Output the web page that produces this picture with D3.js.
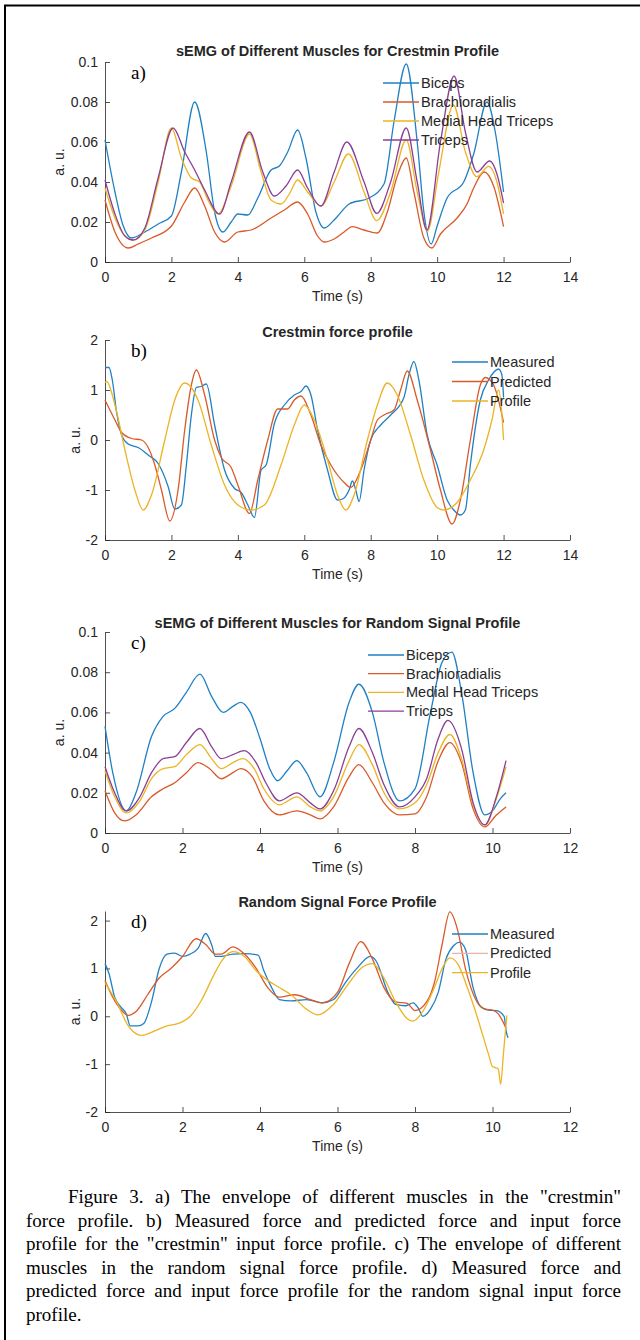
<!DOCTYPE html>
<html>
<head>
<meta charset="utf-8">
<script src="https://cdn.jsdelivr.net/npm/d3@7"></script>
<style>
  body { margin: 0; background: #fff; }
  svg { display: block; }
  text { font-family: "Liberation Sans", Arial, sans-serif; fill: #262626; }
  .cap { font-family: "Liberation Serif", "Times New Roman", serif; fill: #000; }
</style>
</head>
<body>
<script>
// ---- data ----
const muscleNames = ["Biceps", "Brachioradialis", "Medial Head Triceps", "Triceps"];
const forceNames = ["Measured", "Predicted", "Profile"];

const xTicksA = [0, 2, 4, 6, 8, 10, 12, 14];
const xTicksC = [0, 2, 4, 6, 8, 10, 12];
const yTicksEmg = [0, 0.02, 0.04, 0.06, 0.08, 0.1];
const yLabelsEmg = ["0", "0.02", "0.04", "0.06", "0.08", "0.1"];
const yTicksForce = [-2, -1, 0, 1, 2];
const yLabelsForce = ["-2", "-1", "0", "1", "2"];

// a) crestmin sEMG  [time, value]
const aBiceps = [[0,0.061],[0.3,0.035],[0.55,0.018],[0.8,0.012],[1.2,0.015],[1.6,0.019],[2.0,0.023],[2.3,0.045],[2.7,0.080],[3.05,0.055],[3.3,0.025],[3.55,0.015],[3.8,0.02],[4.0,0.024],[4.3,0.0235],[4.6,0.032],[5.0,0.046],[5.25,0.048],[5.5,0.055],[5.8,0.066],[6.05,0.052],[6.35,0.025],[6.6,0.017],[6.9,0.021],[7.35,0.029],[7.95,0.032],[8.4,0.039],[8.7,0.07],[9.07,0.099],[9.4,0.06],[9.6,0.025],[9.82,0.009],[10.0,0.018],[10.3,0.032],[10.8,0.040],[11.1,0.054],[11.5,0.080],[11.75,0.065],[12.0,0.035]];
const aBrachio = [[0,0.031],[0.3,0.015],[0.7,0.007],[1.0,0.009],[1.4,0.012],[2.0,0.018],[2.4,0.030],[2.7,0.037],[3.0,0.028],[3.3,0.015],[3.6,0.010],[4.0,0.015],[4.4,0.016],[5.0,0.022],[5.4,0.026],[5.8,0.030],[6.1,0.024],[6.4,0.013],[6.6,0.010],[6.9,0.0115],[7.2,0.015],[7.45,0.0177],[7.8,0.016],[8.2,0.0145],[8.5,0.025],[8.8,0.043],[9.07,0.052],[9.3,0.035],[9.6,0.012],[9.84,0.007],[10.1,0.014],[10.6,0.022],[10.9,0.029],[11.1,0.037],[11.42,0.045],[11.7,0.038],[12.0,0.0177]];
const aMedial = [[0,0.037],[0.3,0.022],[0.6,0.013],[0.85,0.011],[1.2,0.016],[1.6,0.040],[2.0,0.067],[2.3,0.052],[2.6,0.042],[2.85,0.040],[3.1,0.031],[3.4,0.024],[3.8,0.038],[4.35,0.064],[4.7,0.045],[5.0,0.031],[5.3,0.029],[5.55,0.034],[5.8,0.041],[6.1,0.035],[6.5,0.028],[6.9,0.040],[7.33,0.054],[7.8,0.035],[8.18,0.0207],[8.6,0.035],[9.07,0.061],[9.4,0.035],[9.71,0.0155],[10.05,0.045],[10.49,0.0785],[10.85,0.055],[11.2,0.0427],[11.55,0.0478],[11.8,0.040],[12.0,0.024]];
const aTriceps = [[0,0.041],[0.3,0.024],[0.6,0.013],[0.85,0.011],[1.2,0.017],[1.6,0.042],[2.05,0.067],[2.4,0.055],[2.7,0.046],[3.0,0.036],[3.45,0.024],[3.8,0.040],[4.35,0.065],[4.75,0.045],[5.1,0.033],[5.45,0.038],[5.8,0.046],[6.1,0.037],[6.5,0.028],[6.9,0.045],[7.28,0.060],[7.8,0.040],[8.18,0.0243],[8.6,0.040],[9.07,0.067],[9.4,0.040],[9.69,0.016],[10.1,0.060],[10.51,0.093],[10.85,0.065],[11.2,0.045],[11.58,0.0505],[11.8,0.044],[12.0,0.0295]];

// b) crestmin force
const bMeasured = [[0,1.45],[0.12,1.45],[0.22,1.2],[0.35,0.55],[0.5,0.1],[0.7,-0.08],[1.0,-0.15],[1.3,-0.3],[1.6,-0.47],[1.9,-0.93],[2.1,-1.38],[2.3,-1.3],[2.45,-0.5],[2.6,0.5],[2.75,1.05],[2.9,1.07],[3.05,1.12],[3.3,0.3],[3.6,-0.6],[3.9,-0.97],[4.1,-1.05],[4.3,-1.3],[4.5,-1.55],[4.7,-0.6],[4.85,-0.5],[5.1,0.33],[5.4,0.7],[5.7,0.9],[5.9,0.97],[6.05,1.08],[6.2,0.9],[6.4,0.2],[6.7,-0.6],[7.0,-1.2],[7.15,-1.18],[7.35,-1.0],[7.45,-0.82],[7.55,-1.0],[7.65,-1.23],[7.8,-0.6],[8.0,0.0],[8.3,0.3],[8.6,0.5],[9.0,0.85],[9.15,1.3],[9.3,1.57],[9.45,1.2],[9.7,0.1],[10.0,-0.5],[10.3,-1.2],[10.5,-1.4],[10.7,-1.5],[10.85,-1.4],[11.0,-0.5],[11.3,0.8],[11.55,1.2],[11.85,1.42],[11.95,1.3],[12.0,0.85]];
const bPredicted = [[0,0.8],[0.3,0.4],[0.5,0.15],[0.8,0.03],[1.1,0.0],[1.3,-0.15],[1.5,-0.5],[1.7,-1.0],[1.95,-1.62],[2.2,-1.0],[2.4,0.2],[2.6,1.1],[2.75,1.4],[3.0,0.9],[3.3,0.0],[3.5,-0.35],[3.8,-0.55],[4.0,-0.9],[4.35,-1.47],[4.6,-0.8],[4.9,0.0],[5.2,0.62],[5.5,0.62],[5.7,0.8],[5.9,0.88],[6.2,0.5],[6.5,-0.1],[6.8,-0.5],[7.2,-0.85],[7.4,-0.95],[7.7,-0.6],[8.0,0.0],[8.2,0.4],[8.4,0.5],[8.7,0.6],[8.9,1.0],[9.1,1.38],[9.4,0.8],[9.8,-0.2],[10.1,-1.0],[10.45,-1.68],[10.7,-1.2],[11.0,0.0],[11.3,1.1],[11.45,1.25],[11.7,1.1],[12.0,0.35]];
const bProfile = [[0,1.15],[0.05,1.17],[0.3,0.7],[0.6,-0.2],[0.9,-1.0],[1.15,-1.4],[1.4,-1.1],[1.8,0.0],[2.1,0.8],[2.4,1.14],[2.8,0.8],[3.2,-0.1],[3.6,-0.9],[4.0,-1.3],[4.4,-1.4],[4.8,-1.3],[5.3,-0.5],[5.7,0.3],[6.0,0.7],[6.3,0.4],[6.7,-0.4],[7.0,-1.1],[7.25,-1.4],[7.5,-1.1],[7.9,0.0],[8.2,0.7],[8.5,1.14],[8.8,0.9],[9.2,0.1],[9.6,-0.8],[10.0,-1.35],[10.2,-1.4],[10.6,-1.25],[11.0,-0.8],[11.4,-0.2],[11.65,0.4],[11.85,1.0],[11.95,0.5],[12.0,0.0]];

// c) random signal sEMG
const cBiceps = [[0,0.053],[0.2,0.03],[0.55,0.011],[0.8,0.02],[1.2,0.048],[1.5,0.058],[1.8,0.062],[2.1,0.07],[2.45,0.079],[2.75,0.068],[3.05,0.060],[3.3,0.063],[3.5,0.065],[3.75,0.060],[4.0,0.047],[4.25,0.032],[4.45,0.026],[4.7,0.031],[4.95,0.036],[5.2,0.030],[5.55,0.018],[5.9,0.035],[6.3,0.065],[6.55,0.074],[6.9,0.06],[7.2,0.035],[7.6,0.016],[8.0,0.022],[8.4,0.06],[8.7,0.085],[8.95,0.090],[9.2,0.07],[9.5,0.03],[9.8,0.009],[10.0,0.011],[10.2,0.017],[10.35,0.020]];
const cBrachio = [[0,0.021],[0.25,0.01],[0.5,0.006],[0.8,0.009],[1.2,0.018],[1.5,0.022],[1.8,0.025],[2.1,0.03],[2.4,0.035],[2.7,0.032],[3.0,0.027],[3.3,0.030],[3.5,0.032],[3.8,0.028],[4.1,0.016],[4.5,0.009],[4.95,0.011],[5.3,0.009],[5.55,0.007],[5.9,0.013],[6.3,0.028],[6.55,0.034],[6.9,0.025],[7.2,0.015],[7.6,0.009],[8.0,0.0095],[8.3,0.018],[8.6,0.036],[8.9,0.045],[9.2,0.035],[9.5,0.012],[9.8,0.003],[10.1,0.009],[10.35,0.013]];
const cMedial = [[0,0.031],[0.25,0.018],[0.55,0.010],[0.9,0.016],[1.2,0.027],[1.5,0.032],[1.8,0.033],[2.1,0.039],[2.45,0.044],[2.75,0.037],[3.0,0.032],[3.3,0.035],[3.55,0.037],[3.85,0.032],[4.1,0.022],[4.5,0.014],[4.95,0.018],[5.3,0.013],[5.55,0.011],[5.9,0.018],[6.3,0.036],[6.55,0.044],[6.9,0.034],[7.2,0.02],[7.6,0.012],[8.0,0.015],[8.3,0.024],[8.6,0.040],[8.9,0.049],[9.2,0.037],[9.5,0.014],[9.8,0.004],[10.1,0.017],[10.35,0.033]];
const cTriceps = [[0,0.033],[0.25,0.02],[0.55,0.011],[0.9,0.018],[1.2,0.030],[1.5,0.037],[1.8,0.038],[2.1,0.045],[2.45,0.052],[2.75,0.043],[3.0,0.037],[3.3,0.039],[3.6,0.041],[3.9,0.035],[4.15,0.025],[4.5,0.016],[4.95,0.020],[5.3,0.015],[5.55,0.012],[5.9,0.021],[6.3,0.043],[6.55,0.052],[6.9,0.040],[7.2,0.024],[7.6,0.013],[8.0,0.018],[8.3,0.027],[8.6,0.047],[8.85,0.056],[9.2,0.042],[9.5,0.015],[9.8,0.004],[10.1,0.018],[10.35,0.036]];

// d) random signal force
const dMeasured = [[0,1.1],[0.1,0.9],[0.25,0.4],[0.4,0.2],[0.55,0.05],[0.65,-0.2],[0.85,-0.2],[1.0,-0.15],[1.2,0.3],[1.4,1.0],[1.6,1.3],[1.8,1.32],[2.0,1.25],[2.2,1.3],[2.4,1.42],[2.6,1.73],[2.75,1.5],[2.85,1.25],[3.0,1.25],[3.3,1.3],[3.6,1.31],[3.95,1.28],[4.1,0.95],[4.3,0.6],[4.5,0.35],[4.8,0.32],[5.2,0.35],[5.6,0.28],[5.9,0.35],[6.2,0.7],[6.5,1.0],[6.85,1.25],[7.0,1.15],[7.3,0.5],[7.5,0.25],[7.75,0.22],[7.95,0.28],[8.1,0.15],[8.2,0.0],[8.4,0.15],[8.6,0.5],[8.8,1.2],[9.0,1.48],[9.15,1.55],[9.3,1.4],[9.5,0.6],[9.7,0.2],[9.9,0.13],[10.1,0.12],[10.3,0.0],[10.35,-0.3],[10.4,-0.45]];
const dPredicted = [[0,0.75],[0.2,0.4],[0.4,0.15],[0.6,0.02],[0.8,0.1],[1.1,0.45],[1.4,0.8],[1.7,1.0],[2.0,1.25],[2.35,1.62],[2.6,1.5],[2.85,1.3],[3.0,1.3],[3.3,1.45],[3.6,1.3],[3.9,1.0],[4.2,0.6],[4.5,0.4],[4.9,0.45],[5.3,0.35],[5.6,0.28],[6.0,0.5],[6.3,1.1],[6.6,1.56],[6.9,1.2],[7.2,0.6],[7.5,0.3],[7.8,0.27],[8.0,0.12],[8.3,0.3],[8.5,0.7],[8.7,1.5],[8.9,2.18],[9.1,1.8],[9.3,1.0],[9.6,0.3],[9.8,0.15],[10.0,0.13],[10.15,0.05],[10.35,-0.25]];
const dProfile = [[0,0.7],[0.3,0.3],[0.6,-0.2],[0.95,-0.4],[1.3,-0.3],[1.6,-0.2],[1.9,-0.15],[2.2,0.0],[2.5,0.35],[2.8,0.85],[3.05,1.2],[3.3,1.35],[3.6,1.25],[3.9,0.95],[4.2,0.75],[4.5,0.6],[4.8,0.45],[5.2,0.15],[5.5,0.03],[5.9,0.25],[6.3,0.7],[6.6,1.0],[6.9,1.1],[7.2,0.8],[7.5,0.3],[7.8,-0.05],[7.95,-0.1],[8.2,0.1],[8.5,0.6],[8.7,1.0],[8.9,1.22],[9.1,1.1],[9.35,0.6],[9.6,0.0],[9.75,-0.4],[9.9,-0.8],[10.0,-1.05],[10.1,-1.08],[10.15,-1.1],[10.21,-1.42],[10.28,-0.8],[10.37,0.02]];

const captionLines = [
  "Figure 3. a) The envelope of different muscles in the \"crestmin\"",
  "force profile. b) Measured force and predicted force and input force",
  "profile for the \"crestmin\" input force profile. c) The envelope of different",
  "muscles in the random signal force profile. d) Measured force and",
  "predicted force and input force profile for the random signal input force",
  "profile."
];

// ---- drawing ----
const width = 640, height = 1340;
const colBlue = "#1f80c4", colOrange = "#d95a2a", colYellow = "#ecb424", colPurple = "#8a3e96";

const svg = d3.select("body").append("svg")
    .attr("width", width)
    .attr("height", height);

// page frame (left + top rule)
svg.append("line").attr("x1", 5).attr("x2", 5).attr("y1", 5).attr("y2", height)
    .attr("stroke", "#000").attr("stroke-width", 2);
svg.append("line").attr("x1", 4).attr("x2", width).attr("y1", 5.5).attr("y2", 5.5)
    .attr("stroke", "#000").attr("stroke-width", 2);

function drawPanel(p) {
    const g = svg.append("g");
    const x = d3.scaleLinear().domain(p.xDomain).range([105, 570]);
    const y = d3.scaleLinear().domain(p.yDomain).range([p.bottom, p.top]);

    const xAxis = g.append("g")
        .attr("transform", `translate(0,${p.bottom})`)
        .call(d3.axisBottom(x).tickValues(p.xTicks).tickSizeInner(-5).tickSizeOuter(0).tickPadding(10));
    const yAxis = g.append("g")
        .attr("transform", "translate(105,0)")
        .call(d3.axisLeft(y).tickValues(p.yTicks).tickFormat((d, i) => p.yLabels[i])
            .tickSizeInner(-5).tickSizeOuter(0).tickPadding(7));
    [xAxis, yAxis].forEach(a => {
        a.selectAll("path, line").attr("stroke", "#262626").attr("stroke-width", 0.8);
        a.selectAll("text").attr("font-size", 14).attr("fill", "#262626")
            .attr("font-family", "\"Liberation Sans\", Arial, sans-serif");
    });

    const line = d3.line()
        .x(d => x(d[0]))
        .y(d => y(d[1]))
        .curve(d3.curveMonotoneX);

    p.series.forEach(s => {
        g.append("path")
            .datum(s.data)
            .attr("fill", "none")
            .attr("stroke", s.color)
            .attr("stroke-width", 1.3)
            .attr("d", line);
    });

    // title
    g.append("text")
        .attr("x", 337.5).attr("y", p.titleY)
        .attr("text-anchor", "middle")
        .attr("font-size", 14.5).attr("font-weight", "bold").attr("fill", "#000")
        .text(p.title);

    // x label
    g.append("text")
        .attr("x", 337.5).attr("y", p.bottom + 39)
        .attr("text-anchor", "middle")
        .attr("font-size", 14)
        .text("Time (s)");

    // y label
    g.append("text")
        .attr("transform", `translate(${p.ylabX},${(p.top + p.bottom) / 2}) rotate(-90)`)
        .attr("text-anchor", "middle")
        .attr("font-size", 14)
        .text("a. u.");

    // panel letter
    g.append("text")
        .attr("class", "cap")
        .attr("x", 131).attr("y", p.top + 17)
        .attr("font-size", 19)
        .text(p.letter);

    // legend (no box, drawn over the data)
    p.series.forEach((s, i) => {
        const ly = p.legY + i * p.legStep;
        g.append("line")
            .attr("x1", p.legX).attr("x2", p.legX + 36)
            .attr("y1", ly).attr("y2", ly)
            .attr("stroke", s.legColor || s.color).attr("stroke-width", 1.3);
        g.append("text")
            .attr("x", p.legX + 38).attr("y", ly + 5)
            .attr("font-size", 14.5).attr("fill", "#000")
            .text(s.name);
    });
}

drawPanel({
    title: "sEMG of Different Muscles for Crestmin Profile", titleY: 56, letter: "a)",
    top: 62, bottom: 262, xDomain: [0, 14], yDomain: [0, 0.1],
    xTicks: xTicksA, yTicks: yTicksEmg, yLabels: yLabelsEmg, ylabX: 64,
    legX: 383, legY: 83, legStep: 19,
    series: [
        { name: muscleNames[0], data: aBiceps, color: colBlue },
        { name: muscleNames[1], data: aBrachio, color: colOrange },
        { name: muscleNames[2], data: aMedial, color: colYellow },
        { name: muscleNames[3], data: aTriceps, color: colPurple }
    ]
});

drawPanel({
    title: "Crestmin force profile", titleY: 337, letter: "b)",
    top: 340, bottom: 540, xDomain: [0, 14], yDomain: [-2, 2],
    xTicks: xTicksA, yTicks: yTicksForce, yLabels: yLabelsForce, ylabX: 80,
    legX: 452, legY: 362, legStep: 19.5,
    series: [
        { name: forceNames[0], data: bMeasured, color: colBlue },
        { name: forceNames[1], data: bPredicted, color: colOrange },
        { name: forceNames[2], data: bProfile, color: colYellow }
    ]
});

drawPanel({
    title: "sEMG of Different Muscles for Random Signal Profile", titleY: 628, letter: "c)",
    top: 632, bottom: 833, xDomain: [0, 12], yDomain: [0, 0.1],
    xTicks: xTicksC, yTicks: yTicksEmg, yLabels: yLabelsEmg, ylabX: 64,
    legX: 368, legY: 655, legStep: 18.7,
    series: [
        { name: muscleNames[0], data: cBiceps, color: colBlue },
        { name: muscleNames[1], data: cBrachio, color: colOrange },
        { name: muscleNames[2], data: cMedial, color: colYellow },
        { name: muscleNames[3], data: cTriceps, color: colPurple }
    ]
});

drawPanel({
    title: "Random Signal Force Profile", titleY: 907, letter: "d)",
    top: 911, bottom: 1112, xDomain: [0, 12], yDomain: [-2, 2.2],
    xTicks: xTicksC, yTicks: yTicksForce, yLabels: yLabelsForce, ylabX: 80,
    legX: 452, legY: 934, legStep: 19.3,
    series: [
        { name: forceNames[0], data: dMeasured, color: colBlue },
        { name: forceNames[1], data: dPredicted, color: colOrange, legColor: "#e9b2aa" },
        { name: forceNames[2], data: dProfile, color: colYellow }
    ]
});

// caption, justified line by line through word spacing
const capRight = 621;
captionLines.forEach((t, i) => {
    const x0 = i === 0 ? 68 : 26;
    const txt = svg.append("text")
        .attr("class", "cap")
        .attr("x", x0).attr("y", 1203 + i * 23.5)
        .attr("font-size", 19)
        .text(t);
    if (i < captionLines.length - 1) {
        const natural = txt.node().getComputedTextLength();
        const gaps = t.split(" ").length - 1;
        txt.attr("word-spacing", ((capRight - x0) - natural) / gaps);
    }
});
</script>
</body>
</html>
